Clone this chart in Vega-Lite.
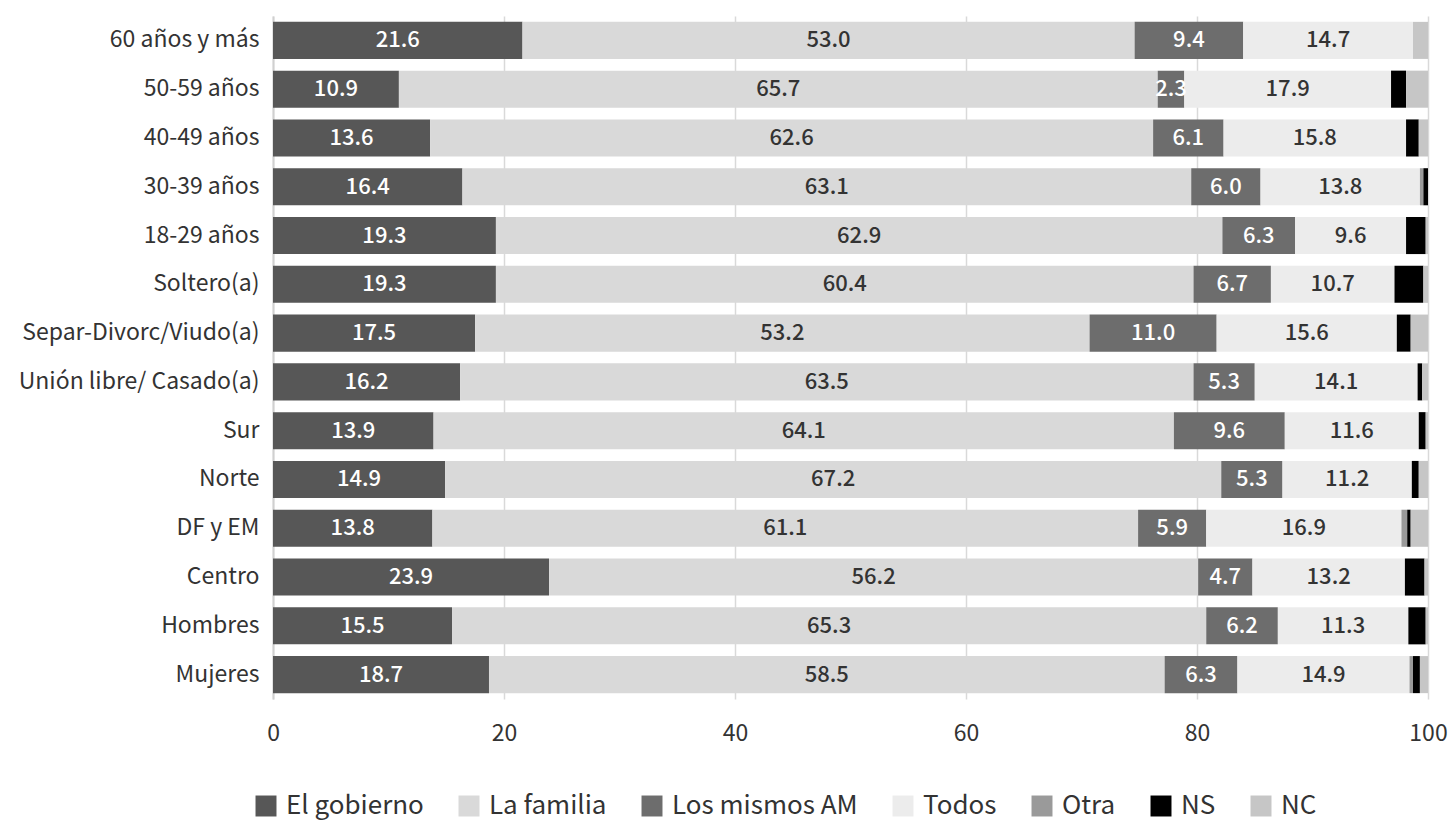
{
  "$schema": "https://vega.github.io/schema/vega-lite/v6.json",
  "autosize": {"type": "none"},
  "width": 1155,
  "height": 683,
  "padding": {"left": 273, "top": 16, "right": 25, "bottom": 123},
  "background": "white",
  "config": {
    "font": "Noto Sans CJK KR",
    "view": {"stroke": null},
    "axis": {"labelColor": "#333333", "titleColor": "#333333"}
  },
  "data": {
    "values": [
      {"group": "60 años y más", "cat": "El gobierno", "value": 21.6},
      {"group": "60 años y más", "cat": "La familia", "value": 53.0},
      {"group": "60 años y más", "cat": "Los mismos AM", "value": 9.4},
      {"group": "60 años y más", "cat": "Todos", "value": 14.7},
      {"group": "60 años y más", "cat": "NC", "value": 1.3},
      {"group": "50-59 años", "cat": "El gobierno", "value": 10.9},
      {"group": "50-59 años", "cat": "La familia", "value": 65.7},
      {"group": "50-59 años", "cat": "Los mismos AM", "value": 2.3},
      {"group": "50-59 años", "cat": "Todos", "value": 17.9},
      {"group": "50-59 años", "cat": "NS", "value": 1.3},
      {"group": "50-59 años", "cat": "NC", "value": 1.9},
      {"group": "40-49 años", "cat": "El gobierno", "value": 13.6},
      {"group": "40-49 años", "cat": "La familia", "value": 62.6},
      {"group": "40-49 años", "cat": "Los mismos AM", "value": 6.1},
      {"group": "40-49 años", "cat": "Todos", "value": 15.8},
      {"group": "40-49 años", "cat": "NS", "value": 1.1},
      {"group": "40-49 años", "cat": "NC", "value": 0.8},
      {"group": "30-39 años", "cat": "El gobierno", "value": 16.4},
      {"group": "30-39 años", "cat": "La familia", "value": 63.1},
      {"group": "30-39 años", "cat": "Los mismos AM", "value": 6.0},
      {"group": "30-39 años", "cat": "Todos", "value": 13.8},
      {"group": "30-39 años", "cat": "Otra", "value": 0.3},
      {"group": "30-39 años", "cat": "NS", "value": 0.4},
      {"group": "18-29 años", "cat": "El gobierno", "value": 19.3},
      {"group": "18-29 años", "cat": "La familia", "value": 62.9},
      {"group": "18-29 años", "cat": "Los mismos AM", "value": 6.3},
      {"group": "18-29 años", "cat": "Todos", "value": 9.6},
      {"group": "18-29 años", "cat": "NS", "value": 1.7},
      {"group": "18-29 años", "cat": "NC", "value": 0.2},
      {"group": "Soltero(a)", "cat": "El gobierno", "value": 19.3},
      {"group": "Soltero(a)", "cat": "La familia", "value": 60.4},
      {"group": "Soltero(a)", "cat": "Los mismos AM", "value": 6.7},
      {"group": "Soltero(a)", "cat": "Todos", "value": 10.7},
      {"group": "Soltero(a)", "cat": "NS", "value": 2.5},
      {"group": "Soltero(a)", "cat": "NC", "value": 0.4},
      {"group": "Separ-Divorc/Viudo(a)", "cat": "El gobierno", "value": 17.5},
      {"group": "Separ-Divorc/Viudo(a)", "cat": "La familia", "value": 53.2},
      {"group": "Separ-Divorc/Viudo(a)", "cat": "Los mismos AM", "value": 11.0},
      {"group": "Separ-Divorc/Viudo(a)", "cat": "Todos", "value": 15.6},
      {"group": "Separ-Divorc/Viudo(a)", "cat": "NS", "value": 1.2},
      {"group": "Separ-Divorc/Viudo(a)", "cat": "NC", "value": 1.5},
      {"group": "Unión libre/ Casado(a)", "cat": "El gobierno", "value": 16.2},
      {"group": "Unión libre/ Casado(a)", "cat": "La familia", "value": 63.5},
      {"group": "Unión libre/ Casado(a)", "cat": "Los mismos AM", "value": 5.3},
      {"group": "Unión libre/ Casado(a)", "cat": "Todos", "value": 14.1},
      {"group": "Unión libre/ Casado(a)", "cat": "NS", "value": 0.4},
      {"group": "Unión libre/ Casado(a)", "cat": "NC", "value": 0.5},
      {"group": "Sur", "cat": "El gobierno", "value": 13.9},
      {"group": "Sur", "cat": "La familia", "value": 64.1},
      {"group": "Sur", "cat": "Los mismos AM", "value": 9.6},
      {"group": "Sur", "cat": "Todos", "value": 11.6},
      {"group": "Sur", "cat": "NS", "value": 0.6},
      {"group": "Sur", "cat": "NC", "value": 0.2},
      {"group": "Norte", "cat": "El gobierno", "value": 14.9},
      {"group": "Norte", "cat": "La familia", "value": 67.2},
      {"group": "Norte", "cat": "Los mismos AM", "value": 5.3},
      {"group": "Norte", "cat": "Todos", "value": 11.2},
      {"group": "Norte", "cat": "NS", "value": 0.6},
      {"group": "Norte", "cat": "NC", "value": 0.8},
      {"group": "DF y EM", "cat": "El gobierno", "value": 13.8},
      {"group": "DF y EM", "cat": "La familia", "value": 61.1},
      {"group": "DF y EM", "cat": "Los mismos AM", "value": 5.9},
      {"group": "DF y EM", "cat": "Todos", "value": 16.9},
      {"group": "DF y EM", "cat": "Otra", "value": 0.5},
      {"group": "DF y EM", "cat": "NS", "value": 0.3},
      {"group": "DF y EM", "cat": "NC", "value": 1.5},
      {"group": "Centro", "cat": "El gobierno", "value": 23.9},
      {"group": "Centro", "cat": "La familia", "value": 56.2},
      {"group": "Centro", "cat": "Los mismos AM", "value": 4.7},
      {"group": "Centro", "cat": "Todos", "value": 13.2},
      {"group": "Centro", "cat": "NS", "value": 1.7},
      {"group": "Centro", "cat": "NC", "value": 0.3},
      {"group": "Hombres", "cat": "El gobierno", "value": 15.5},
      {"group": "Hombres", "cat": "La familia", "value": 65.3},
      {"group": "Hombres", "cat": "Los mismos AM", "value": 6.2},
      {"group": "Hombres", "cat": "Todos", "value": 11.3},
      {"group": "Hombres", "cat": "NS", "value": 1.5},
      {"group": "Hombres", "cat": "NC", "value": 0.2},
      {"group": "Mujeres", "cat": "El gobierno", "value": 18.7},
      {"group": "Mujeres", "cat": "La familia", "value": 58.5},
      {"group": "Mujeres", "cat": "Los mismos AM", "value": 6.3},
      {"group": "Mujeres", "cat": "Todos", "value": 14.9},
      {"group": "Mujeres", "cat": "Otra", "value": 0.3},
      {"group": "Mujeres", "cat": "NS", "value": 0.6},
      {"group": "Mujeres", "cat": "NC", "value": 0.7}
    ]
  },
  "transform": [
    {"calculate": "indexof(['El gobierno','La familia','Los mismos AM','Todos','Otra','NS','NC'], datum.cat)", "as": "k"},
    {"stack": "value", "groupby": ["group"], "sort": [{"field": "k", "order": "ascending"}], "as": ["x0", "x1"]},
    {"calculate": "(datum.x0 + datum.x1) / 2", "as": "mid"}
  ],
  "encoding": {
    "y": {
      "field": "group",
      "type": "nominal",
      "sort": ["60 años y más", "50-59 años", "40-49 años", "30-39 años", "18-29 años", "Soltero(a)", "Separ-Divorc/Viudo(a)", "Unión libre/ Casado(a)", "Sur", "Norte", "DF y EM", "Centro", "Hombres", "Mujeres"],
      "scale": {"paddingInner": 0.24, "paddingOuter": 0.12},
      "axis": {"title": null, "labelFontSize": 23, "labelPadding": 14, "labelLimit": 400, "ticks": false, "domainColor": "#d0d0d0", "domainWidth": 2, "labelColor": "#333333"}
    }
  },
  "layer": [
    {
      "mark": {"type": "bar"},
      "encoding": {
        "x": {
          "field": "x0", "type": "quantitative",
          "scale": {"domain": [0, 100], "nice": false},
          "axis": {"title": null, "values": [0, 20, 40, 60, 80, 100], "labelFontSize": 23, "labelPadding": 23, "ticks": false, "domain": false, "grid": true, "gridColor": "#d9d9d9", "gridWidth": 1.5, "labelColor": "#333333", "labelFlush": false}
        },
        "x2": {"field": "x1"},
        "color": {
          "field": "cat", "type": "nominal",
          "scale": {
            "domain": ["El gobierno", "La familia", "Los mismos AM", "Todos", "Otra", "NS", "NC"],
            "range": ["#575757", "#d9d9d9", "#6d6d6d", "#ececec", "#9a9a9a", "#000000", "#c6c6c6"]
          },
          "legend": {
            "title": null, "orient": "none", "direction": "horizontal",
            "legendX": -20, "legendY": 777,
            "symbolType": "square", "symbolSize": 440, "symbolStrokeWidth": 0,
            "labelFontSize": 26, "labelColor": "#333333", "labelOffset": 7,
            "columnPadding": 32, "labelLimit": 300
          }
        }
      }
    },
    {
      "transform": [{"filter": "datum.k <= 3"}],
      "mark": {"type": "text", "fontSize": 22, "fontWeight": 500, "baseline": "middle", "align": "center"},
      "encoding": {
        "x": {"field": "mid", "type": "quantitative"},
        "text": {"field": "value", "type": "quantitative", "format": ".1f"},
        "color": {
          "condition": {"test": "datum.k === 0 || datum.k === 2", "value": "#ffffff"},
          "value": "#333333"
        }
      }
    }
  ]
}
